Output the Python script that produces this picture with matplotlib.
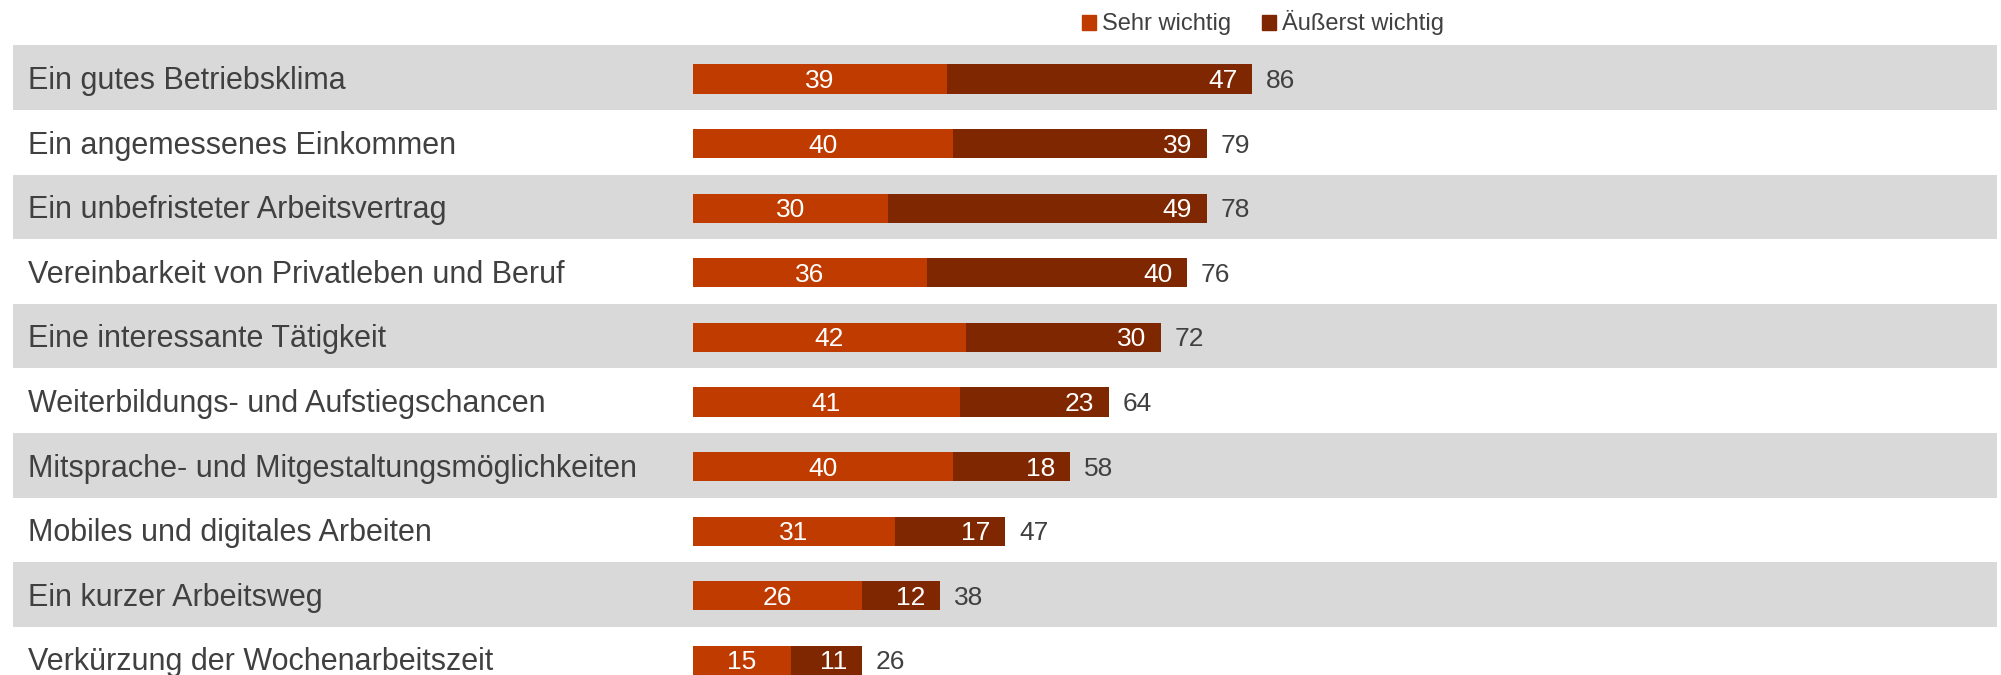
import matplotlib.pyplot as plt
from matplotlib.patches import Patch

categories = [
    "Ein gutes Betriebsklima",
    "Ein angemessenes Einkommen",
    "Ein unbefristeter Arbeitsvertrag",
    "Vereinbarkeit von Privatleben und Beruf",
    "Eine interessante Tätigkeit",
    "Weiterbildungs- und Aufstiegschancen",
    "Mitsprache- und Mitgestaltungsmöglichkeiten",
    "Mobiles und digitales Arbeiten",
    "Ein kurzer Arbeitsweg",
    "Verkürzung der Wochenarbeitszeit",
]
sehr_wichtig = [39, 40, 30, 36, 42, 41, 40, 31, 26, 15]
aeusserst_wichtig = [47, 39, 49, 40, 30, 23, 18, 17, 12, 11]
totals = [86, 79, 78, 76, 72, 64, 58, 47, 38, 26]

c_sehr = "#c03b00"
c_aeus = "#7f2700"
c_band = "#d9d9d9"
c_text = "#404040"

plt.rcParams["font.family"] = ["Liberation Sans", "DejaVu Sans"]

W, H, DPI = 2001, 675, 100
fig = plt.figure(figsize=(W / DPI, H / DPI), dpi=DPI)
ax = fig.add_axes([0, 0, 1, 1])

# pixel geometry: bar origin at x=693px, 6.5px per percent; row pitch 64.6px, first row at 79px
x0, ppu = 693, 6.5
y0, pitch = 79, 64.6
ax.set_xlim(-x0 / ppu, (W - x0) / ppu)
ax.set_ylim((H - y0) / pitch, -y0 / pitch)
ax.axis("off")

ys = list(range(len(categories)))
for i in ys:
    if i % 2 == 0:
        ax.axhspan(i - 0.52, i + 0.48, xmin=13 / W, xmax=1997 / W, color=c_band, lw=0, zorder=0)

ax.barh(ys, sehr_wichtig, height=0.45, color=c_sehr, zorder=2)
ax.barh(ys, aeusserst_wichtig, left=sehr_wichtig, height=0.45, color=c_aeus, zorder=2)

dy = -1.5  # va=center sits a little high, nudge text down
for i, (name, a, b, t) in enumerate(zip(categories, sehr_wichtig, aeusserst_wichtig, totals)):
    ax.annotate(name, (28 / W, i), xycoords=ax.get_yaxis_transform(), xytext=(0, dy),
                textcoords="offset points", ha="left", va="center", fontsize=22, color=c_text)
    ax.annotate(str(a), (a / 2, i), xytext=(0, dy), textcoords="offset points",
                ha="center", va="center", fontsize=19, color="white", zorder=3)
    ax.annotate(str(b), (a + b, i), xytext=(-10.5, dy), textcoords="offset points",
                ha="right", va="center", fontsize=19, color="white", zorder=3)
    ax.annotate(str(t), (a + b, i), xytext=(10, dy), textcoords="offset points",
                ha="left", va="center", fontsize=19, color=c_text, zorder=3)

handles = [Patch(color=c_sehr, label="Sehr wichtig"), Patch(color=c_aeus, label="Äußerst wichtig")]
leg = fig.legend(handles=handles, loc="center", bbox_to_anchor=(0.631, 0.966), ncol=2,
                 frameon=False, fontsize=17, handlelength=0.6, handleheight=0.6,
                 handletextpad=0.25, columnspacing=1.3)
for txt in leg.get_texts():
    txt.set_color(c_text)

fig.savefig("out.png", dpi=DPI)
